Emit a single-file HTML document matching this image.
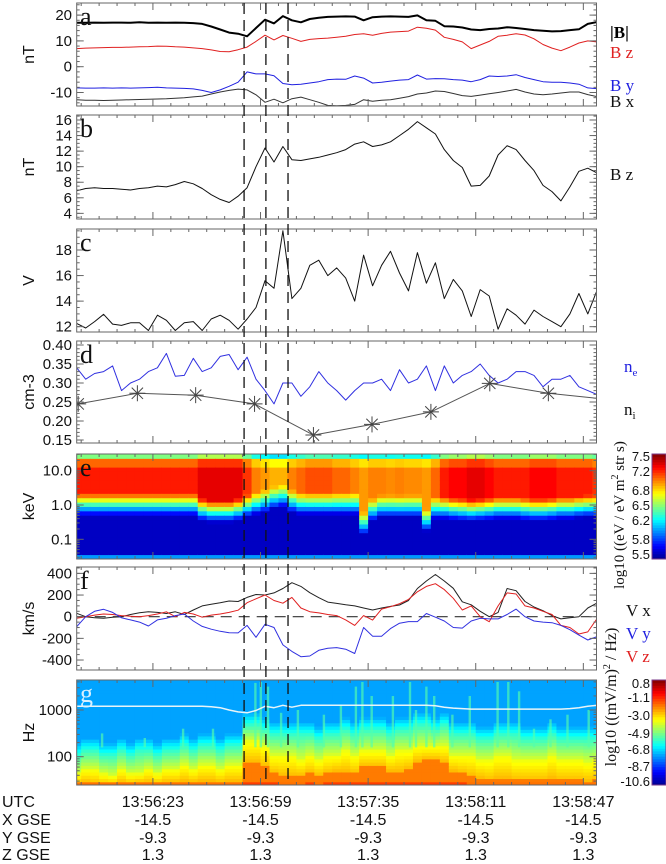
<!DOCTYPE html>
<html><head><meta charset="utf-8"><style>
html,body{margin:0;padding:0;background:#fff;}
svg{display:block;}
text{font-family:"Liberation Sans",sans-serif;}
.serif{font-family:"Liberation Serif",serif;}
</style></head><body>
<svg id="chart" width="666" height="864" viewBox="0 0 666 864" xmlns="http://www.w3.org/2000/svg"></svg>
<script>
// ---- data (time in seconds from 13:55:57.5) ----
const tGrid=[0,3,6,9,12,15,18,21,24,27,30,33,36,39,42,45,48,51,54,57,60,63,66,69,72,75,78,81,84,87,90,93,96,99,102,105,108,111,114,117,120,123,126,129,132,135,138,141,144,147,150,153,156,159,162,165,168,171,174];
const bMag=[17.0,17.0,17.1,17.0,17.1,17.1,17.0,17.2,17.0,17.1,17.0,17.1,17.0,16.9,16.6,15.6,14.4,13.2,12.8,11.8,15.0,18.2,16.8,19.6,18.0,17.2,18.5,19.0,19.3,19.4,19.5,19.4,18.0,19.2,19.4,19.5,19.4,19.3,19.9,18.0,17.8,15.7,15.6,15.2,14.4,14.2,14.6,14.8,15.3,15.0,14.6,14.2,13.9,13.7,13.8,14.2,14.5,16.6,17.3];
const bzA=[7.0,7.2,7.3,7.4,7.5,7.5,7.6,7.7,7.8,8.0,7.9,7.7,7.6,7.3,7.0,6.5,5.9,5.8,6.6,7.6,9.8,12.2,10.4,12.1,11.0,9.8,10.6,10.9,11.1,11.4,11.8,12.5,12.8,12.2,12.9,13.4,13.6,13.8,15.3,14.9,14.2,11.4,10.6,9.6,7.0,8.4,9.8,11.8,12.2,12.8,12.3,10.8,8.6,7.2,6.2,7.6,9.2,10.0,9.6];
const byA=[-8.2,-8.3,-8.3,-8.2,-8.3,-8.2,-8.3,-8.2,-8.1,-8.0,-8.2,-8.3,-8.4,-8.6,-9.2,-10.0,-9.0,-7.6,-6.0,-2.0,-2.8,-2.8,-3.5,-6.5,-7.0,-6.8,-6.3,-5.8,-5.0,-4.8,-4.9,-3.6,-4.4,-6.3,-6.0,-5.6,-5.2,-5.0,-3.2,-4.8,-4.6,-4.7,-5.0,-5.2,-5.8,-5.0,-3.6,-3.8,-3.6,-3.1,-4.2,-5.0,-5.8,-6.0,-6.0,-6.3,-6.8,-8.2,-8.5];
const bxA=[-12.8,-13.0,-13.0,-13.1,-13.0,-12.9,-12.8,-12.7,-12.6,-12.5,-12.4,-12.2,-12.0,-11.7,-11.4,-10.6,-9.8,-9.2,-8.7,-9.0,-10.9,-13.8,-12.6,-14.0,-12.4,-11.8,-12.8,-13.8,-15.0,-15.1,-15.0,-14.6,-12.8,-13.4,-13.0,-12.8,-12.2,-11.6,-10.6,-10.2,-9.4,-9.6,-10.4,-11.2,-11.5,-11.0,-10.5,-10.0,-9.4,-8.8,-9.8,-10.6,-10.9,-10.6,-10.2,-9.8,-9.8,-10.8,-11.6];
const bzB=[6.9,7.2,7.3,7.2,7.2,7.1,7.0,7.2,7.3,7.5,7.4,7.7,8.1,7.8,7.2,6.4,5.8,5.4,6.2,7.3,10.0,12.4,10.6,12.6,10.9,10.8,11.0,11.2,11.5,11.8,12.2,12.9,13.2,12.6,12.8,13.2,14.0,14.8,15.8,15.0,14.2,12.2,10.8,9.9,7.5,7.6,8.8,11.5,12.7,12.2,10.8,9.5,7.6,6.8,5.6,7.4,9.4,9.8,9.2];
const vC=[12.26,11.9,12.4,12.97,12.2,12.1,12.3,12.3,11.7,12.9,12.5,11.7,12.3,12.4,11.7,12.6,12.9,12.5,11.8,12.6,13.5,15.6,15.0,19.5,14.2,15.0,16.8,17.2,16.0,16.6,15.8,14.0,17.6,15.2,16.8,17.9,16.2,14.8,17.8,15.4,17.0,14.2,15.7,14.8,12.8,14.9,14.4,11.8,13.4,12.9,12.2,13.3,12.8,12.4,12.0,13.0,14.6,13.0,14.8];
const nE=[0.34,0.31,0.325,0.33,0.345,0.28,0.30,0.31,0.33,0.34,0.378,0.318,0.32,0.365,0.33,0.34,0.37,0.375,0.335,0.368,0.31,0.28,0.245,0.30,0.30,0.265,0.29,0.33,0.30,0.28,0.255,0.28,0.30,0.30,0.31,0.28,0.335,0.30,0.31,0.345,0.28,0.345,0.30,0.32,0.33,0.35,0.32,0.30,0.31,0.33,0.33,0.32,0.29,0.31,0.31,0.32,0.29,0.28,0.27];
const niT=[0.5,20.3,39.8,59.5,79.2,98.8,118.5,138.2,157.8,177.4];
const nI=[0.245,0.273,0.268,0.245,0.163,0.191,0.224,0.299,0.273,0.257];
const vX=[31,0,-10,-15,-5,0,20,37,45,40,30,45,20,62,100,115,129,145,140,178,205,200,220,260,314,280,222,175,135,123,110,100,80,62,80,95,108,150,260,330,390,330,262,138,110,50,0,40,260,240,140,90,55,10,-20,-10,0,80,125];
const vZ=[-15,0,15,25,20,10,5,0,10,25,45,0,40,25,-5,15,25,40,60,129,165,200,150,125,178,80,46,35,20,10,-30,-80,10,-31,70,92,120,160,230,280,305,250,170,62,100,0,-46,100,220,210,100,80,50,20,-80,-100,-160,-140,-20];
const vY=[-92,0,50,68,40,-10,-30,-50,-86,-30,-15,10,25,-40,-90,-115,-135,-148,-150,-80,-190,-70,-100,-260,-320,-369,-363,-310,-292,-285,-300,-340,-100,-180,-180,-110,-60,-45,-45,30,-5,-40,-100,-105,-40,-15,-20,-20,20,70,0,-40,-50,-55,-80,-120,-170,-215,-185];
// ion spectrogram: red-band lower edge (log10 keV) and peak log flux per column
const eEdge=[0.35,0.35,0.35,0.35,0.35,0.35,0.35,0.35,0.35,0.35,0.35,0.35,0.35,0.35,0.2,0.15,0.15,0.15,0.2,0.3,0.38,0.45,0.55,0.6,0.45,0.38,0.38,0.38,0.38,0.38,0.38,0.38,-0.2,0.2,0.3,0.3,0.3,0.3,0.3,-0.1,0.25,0.25,0.22,0.2,0.18,0.2,0.22,0.25,0.25,0.25,0.22,0.2,0.2,0.22,0.25,0.25,0.28,0.3,0.3];
const ePeak=[7.2,7.2,7.2,7.2,7.2,7.2,7.2,7.2,7.2,7.2,7.2,7.2,7.2,7.2,7.3,7.3,7.3,7.3,7.3,7.15,7.0,6.95,6.9,6.9,7.0,7.05,7.1,7.1,7.1,7.05,7.05,7.0,6.95,7.0,7.0,6.98,7.0,6.98,6.98,6.95,7.05,7.2,7.25,7.25,7.3,7.3,7.25,7.2,7.2,7.2,7.2,7.25,7.25,7.25,7.2,7.2,7.2,7.2,7.15];
// wave spectrogram: tops (log10 Hz) of green, yellow, red regions
const gGreen=[2.05,2.15,2.15,2.05,2.05,2.15,2.05,2.15,2.15,2.05,2.15,2.15,2.25,2.15,2.25,2.25,2.15,2.25,2.25,2.7,2.7,2.6,2.5,2.5,2.5,2.5,2.5,2.4,2.5,2.5,2.6,2.5,2.6,2.6,2.6,2.5,2.6,2.6,2.7,2.7,2.6,2.7,2.5,2.5,2.5,2.4,2.4,2.5,2.5,2.5,2.4,2.4,2.4,2.5,2.4,2.4,2.4,2.4,2.4];
const gYel=[1.65,1.75,1.75,1.65,1.6,1.75,1.65,1.65,1.75,1.65,1.75,1.75,1.85,1.75,1.85,1.85,1.75,1.85,1.85,2.35,2.35,2.25,2.05,2.05,2.05,1.95,2.05,1.95,2.05,2.05,2.15,2.05,2.15,2.15,2.15,2.05,2.15,2.15,2.25,2.25,2.25,2.25,2.05,2.05,2.05,1.95,1.95,2.05,2.05,1.95,1.95,1.95,1.95,2.05,1.95,1.95,1.95,1.9,1.95];
const gRed=[1.42,1.45,1.42,1.4,1.4,1.45,1.42,1.45,1.45,1.42,1.45,1.45,1.48,1.45,1.48,1.48,1.45,1.48,1.48,1.9,1.9,1.8,1.65,1.6,1.6,1.6,1.65,1.6,1.65,1.7,1.7,1.65,1.8,1.8,1.8,1.7,1.7,1.75,1.9,1.95,1.95,1.9,1.7,1.65,1.6,1.55,1.5,1.55,1.55,1.5,1.5,1.5,1.5,1.55,1.5,1.5,1.5,1.48,1.5];
const gLine=[3.08,3.08,3.08,3.08,3.08,3.08,3.08,3.08,3.08,3.08,3.08,3.08,3.08,3.08,3.08,3.07,3.05,3.0,2.96,2.94,2.99,3.08,3.05,3.1,3.06,3.1,3.1,3.1,3.1,3.1,3.1,3.1,3.1,3.1,3.1,3.1,3.1,3.1,3.1,3.1,3.09,3.06,3.04,3.03,3.02,3.02,3.02,3.02,3.02,3.02,3.02,3.02,3.02,3.02,3.02,3.03,3.05,3.08,3.1];
const streakT=[8.5,22.8,35.6,45.6,59.8,61.6,64,68.4,74,82.7,88.4,93.4,95.6,98.7,105.8,111.5,113.5,117,119.6,125.7,131.5,140.8,144.4,148,153,158.5,164.2,171.3];
const streakTop=[2.5,2.4,2.6,2.6,3.58,3.6,3.5,2.94,3.0,2.9,3.1,3.5,3.6,3.3,3.3,3.6,3.0,3.5,3.3,2.9,3.3,3.6,3.6,3.4,2.6,2.8,2.9,3.0];
const eventT=[56.0,63.3,70.7];
const xTickT=[25.5,61.5,97.5,133.5,169.5];
const xTickLab=["13:56:23","13:56:59","13:57:35","13:58:11","13:58:47"];
const xGse=["-14.5","-14.5","-14.5","-14.5","-14.5"];
const yGse=["-9.3","-9.3","-9.3","-9.3","-9.3"];
const zGse=["1.3","1.3","1.3","1.3","1.3"];

// ---- helpers ----
const svg=document.getElementById('chart');
const NS='http://www.w3.org/2000/svg';
const L=76.7,R=596.5;
function X(t){return L+t*2.989;}
function mk(tag,attrs,parent){const e=document.createElementNS(NS,tag);for(const k in attrs)e.setAttribute(k,attrs[k]);(parent||svg).appendChild(e);return e;}
function txt(s,x,y,attrs,parent){const e=mk('text',Object.assign({x:x,y:y},attrs||{}),parent);e.textContent=s;return e;}
function jet(n){n=Math.max(0,Math.min(1,n));const st=[[0,[0,0,140]],[0.125,[0,0,255]],[0.375,[0,255,255]],[0.625,[255,255,0]],[0.875,[255,0,0]],[1,[128,0,0]]];
 for(let i=0;i<st.length-1;i++){if(n<=st[i+1][0]){const f=(n-st[i][0])/(st[i+1][0]-st[i][0]);const a=st[i][1],b=st[i+1][1];return 'rgb('+a.map((v,j)=>Math.round(v+(b[j]-v)*f)).join(',')+')';}}return 'rgb(128,0,0)';}

const panels={
 a:{top:3,bot:106,y:v=>66.7-v*2.58},
 b:{top:115,bot:219,y:v=>120+(16-v)*7.78},
 c:{top:229,bot:332,y:v=>250+(18-v)*12.78},
 d:{top:341,bot:443,y:v=>345+(0.40-v)*380},
 e:{top:454,bot:559,y:lg=>470.7-(lg-1)*34.3},
 f:{top:567,bot:670,y:v=>616.7-v*0.1083},
 g:{top:680,bot:785,y:lg=>710-(lg-3)*46.7}
};
const defs=mk('defs',{});
for(const k in panels){const p=panels[k];const cp=mk('clipPath',{id:'clip-'+k},defs);mk('rect',{x:L,y:p.top,width:R-L,height:p.bot-p.top},cp);}

function line(panel,ts,vs,color,w,name){
 const p=panels[panel];let d='';
 for(let i=0;i<Math.min(ts.length,vs.length);i++){d+=(i?'L':'M')+X(ts[i]).toFixed(1)+','+p.y(vs[i]).toFixed(1);}
 const e=mk('path',{d:d,fill:'none',stroke:color,'stroke-width':w,'stroke-linejoin':'round','clip-path':'url(#clip-'+panel+')'});
 
 
 return e;
}

// ---- spectrogram e ----
const eg=mk('g',{'clip-path':'url(#clip-e)'});


const eBins=24,eLo=-1.57,eHi=1.49;
function eVal(lg,edge,peak){
 if(lg<-1.45) return 6.05;
 if(lg>1.3) return peak-0.45-(lg-1.3)*2;
 if(lg>=edge) return lg>1.12?peak-0.15:peak;
 const d=edge-lg;
 if(d<0.5) return peak-(peak-5.95)*(d/0.5);
 if(d<0.65) return 5.95-(d-0.5)*2.2;
 return 5.62;
}
for(let i=0;i<tGrid.length;i++){
 const x0=X(tGrid[i]-1.5),x1=X(tGrid[i]+1.5);
 for(let j=0;j<eBins;j++){
  const l0=eLo+(eHi-eLo)*j/eBins,l1=eLo+(eHi-eLo)*(j+1)/eBins;
  const v=eVal((l0+l1)/2,eEdge[i],ePeak[i]);
  const y0=panels.e.y(l1),y1=panels.e.y(l0);
  const r=mk('rect',{x:x0.toFixed(2),y:y0.toFixed(2),width:(x1-x0+0.6).toFixed(2),height:(y1-y0+0.6).toFixed(2),fill:jet((v-5.5)/2.0)},eg);
  
  
 }
}

// ---- spectrogram g ----
const gg=mk('g',{'clip-path':'url(#clip-g)'});


const gBins=32,gLo=1.394,gHi=3.642;
function gVal(lf,green,yel,red){
 if(lf<1.46) return red>1.6?-1.3:-1.9;
 if(lf<red) return -2.0;
 if(lf<yel) return -2.7-(lf-red)/(yel-red)*1.0;
 if(lf<green) return -3.9-(lf-yel)/(green-yel)*1.9;
 if(lf<green+0.25) return -5.8-(lf-green)/0.25*1.5;
 return -7.35;
}
for(let i=0;i<tGrid.length;i++){
 const x0=X(tGrid[i]-1.5),x1=X(tGrid[i]+1.5);
 for(let j=0;j<gBins;j++){
  const l0=gLo+(gHi-gLo)*j/gBins,l1=gLo+(gHi-gLo)*(j+1)/gBins;
  const v=gVal((l0+l1)/2,gGreen[i],gYel[i],gRed[i]);
  const y0=panels.g.y(l1),y1=panels.g.y(l0);
  const r=mk('rect',{x:x0.toFixed(2),y:y0.toFixed(2),width:(x1-x0+0.6).toFixed(2),height:(y1-y0+0.6).toFixed(2),fill:jet((v+10.6)/11.4)},gg);
  
  
 }
}
for(let i=0;i<streakT.length;i++){
 const yt=panels.g.y(streakTop[i]);
 const s=mk('rect',{x:(X(streakT[i])-1.2).toFixed(1),y:yt.toFixed(1),width:2.4,height:(panels.g.y(2.2)-yt).toFixed(1),fill:jet((-5.4+10.6)/11.4),opacity:0.65},gg);
 
 
}
line('g',tGrid,gLine,'#e8f4f8',1.5,'frequency-line');

// ---- line panels ----
line('a',tGrid,bMag,'#000',2,'b-magnitude-line');
line('a',tGrid,bzA,'#e02020',1,'bz-line');
line('a',tGrid,byA,'#2020e0',1,'by-line');
line('a',tGrid,bxA,'#333',1,'bx-line');
line('b',tGrid,bzB,'#111',1,'bz-detail-line');
line('c',tGrid,vC,'#111',1,'potential-line');
line('d',tGrid,nE,'#3030e0',1,'electron-density-line');
line('d',niT,nI,'#555',1,'ion-density-line');
for(let i=0;i<niT.length;i++){
 const cx=X(niT[i]),cy=panels.d.y(nI[i]);
 if(cx>R+1) continue;
 const g=mk('g',{stroke:'#444','stroke-width':1,'clip-path':'url(#clip-d)'});
 
 
 for(let k=0;k<4;k++){const a=k*Math.PI/4;const dx=8*Math.cos(a),dy=8*Math.sin(a);mk('line',{x1:cx-dx,y1:cy-dy,x2:cx+dx,y2:cy+dy},g);}
}
const zl=mk('line',{x1:L,x2:R,y1:panels.f.y(0),y2:panels.f.y(0),stroke:'#333','stroke-width':1.2,'stroke-dasharray':'11,7'});


line('f',tGrid,vX,'#222',1,'vx-line');
line('f',tGrid,vZ,'#e02020',1,'vz-line');
line('f',tGrid,vY,'#3030e0',1,'vy-line');

// ---- frames & ticks ----
const yTicks={
 a:{major:[20,10,0,-10],lab:['20','10','0','-10'],minor:2,range:[-15.2,24.7]},
 b:{major:[4,6,8,10,12,14,16],lab:['4','6','8','10','12','14','16'],minor:0.5,range:[3.4,16.6]},
 c:{major:[12,14,16,18],lab:['12','14','16','18'],minor:0.5,range:[11.4,19.7]},
 d:{major:[0.15,0.20,0.25,0.30,0.35,0.40],lab:['0.15','0.20','0.25','0.30','0.35','0.40'],minor:0.01,range:[0.135,0.408]},
 e:{major:[-1,0,1],lab:['0.1','1.0','10.0'],minor:null,range:[-1.57,1.49]},
 f:{major:[-400,-200,0,200,400],lab:['-400','-200','0','200','400'],minor:50,range:[-490,450]},
 g:{major:[2,3],lab:['100','1000'],minor:null,range:[1.394,3.642]}
};
const titles={a:'nT',b:'nT',c:'V',d:'cm-3',e:'keV',f:'km/s',g:'Hz'};
for(const k in panels){
 const p=panels[k],yt=yTicks[k];
 const fr=mk('rect',{x:L,y:p.top,width:R-L,height:p.bot-p.top,fill:'none',stroke:'#666','stroke-width':1});
 
 
 const tk=mk('g',{stroke:'#666','stroke-width':1});
 
 
 if(yt.minor){const s=Math.ceil(yt.range[0]/yt.minor-1e-9);for(let v=s*yt.minor;v<=yt.range[1];v+=yt.minor){const y=p.y(v);if(y<p.top||y>p.bot)continue;mk('line',{x1:L,x2:L+3,y1:y,y2:y},tk);mk('line',{x1:R-3,x2:R,y1:y,y2:y},tk);}}
 else{for(let dec=-2;dec<4;dec++){for(let m=2;m<10;m++){const lg=dec+Math.log10(m);if(lg<yt.range[0]||lg>yt.range[1])continue;const y=p.y(lg);mk('line',{x1:L,x2:L+3,y1:y,y2:y},tk);mk('line',{x1:R-3,x2:R,y1:y,y2:y},tk);}}}
 yt.major.forEach((v,i)=>{const y=p.y(v);mk('line',{x1:L,x2:L+7,y1:y,y2:y},tk);mk('line',{x1:R-7,x2:R,y1:y,y2:y},tk);
  const t=txt(yt.lab[i],72,y+5,{'text-anchor':'end','font-size':15,fill:'#111'});
  
  });
 for(let tt=-4.5;tt<175;tt+=6){const x=X(tt);if(x<L||x>R)continue;const maj=xTickT.some(m=>Math.abs(m-tt)<0.01);const ln=maj?7:3;mk('line',{x1:x,x2:x,y1:p.bot,y2:p.bot-ln},tk);mk('line',{x1:x,x2:x,y1:p.top,y2:p.top+ln},tk);}
 const ti=txt(titles[k],34,(p.top+p.bot)/2,{'text-anchor':'middle','font-size':16,fill:'#111',transform:'rotate(-90 34 '+((p.top+p.bot)/2)+')'});
 
 
 const lt=txt(k,80,p.top+22,{'class':'serif','font-size':26,fill:k==='g'?'#d8f0ff':'#111'});
 
 
}

eventT.forEach(t=>{const l=mk('line',{x1:X(t),x2:X(t),y1:3,y2:785,stroke:'#111','stroke-width':1.3,'stroke-dasharray':'11,6'});
 
 });

function lab(s,x,y,col,name,size){const t=txt(s,x,y,{'class':'serif','font-size':size||17,fill:col});return t;}
lab('|B|',610,38,'#000','legend-b-magnitude').setAttribute('font-weight','bold');
lab('B z',610,58,'#e02020','legend-bz');
lab('B y',610,91,'#2020e0','legend-by');
lab('B x',610,107,'#111','legend-bx');
lab('B z',610,180,'#111','legend-bz-detail');
const ne=lab('n',624,372,'#2020e0','legend-ne');const s1=mk('tspan',{'font-size':11,dy:4},ne);s1.textContent='e';
const ni=lab('n',624,415,'#111','legend-ni');const s2=mk('tspan',{'font-size':11,dy:4},ni);s2.textContent='i';
lab('V x',626,616,'#111','legend-vx');
lab('V y',626,639,'#2020e0','legend-vy');
lab('V z',626,662,'#e02020','legend-vz');

function cbar(top,bot,name){const g=mk('g',{});
 const n=40;for(let i=0;i<n;i++){const y=bot-(i+1)*(bot-top)/n;mk('rect',{x:652,y:y.toFixed(2),width:14,height:((bot-top)/n+0.5).toFixed(2),fill:jet((i+0.5)/n)},g);}
 mk('rect',{x:652,y:top,width:14,height:bot-top,fill:'none',stroke:'#7a3a8a','stroke-width':1},g);}
cbar(454,559,'ion-flux-colorbar');
cbar(680,785,'wave-power-colorbar');
const eLabs=['7.5','7.2','6.8','6.5','6.2','5.8','5.5'],eLabY=[461,476,495,510,525,544,559];
eLabs.forEach((s,i)=>{const t=txt(s,650,eLabY[i],{'text-anchor':'end','font-size':13,fill:'#111'});});
const gLabs=['0.8','-1.1','-3.0','-4.9','-6.8','-8.7','-10.6'],gLabY=[688,702,720,738,754,771,786];
gLabs.forEach((s,i)=>{const t=txt(s,650,gLabY[i],{'text-anchor':'end','font-size':13,fill:'#111'});});
const ct1=mk('text',{x:0,y:0,'class':'serif','font-size':15,fill:'#111','text-anchor':'middle',transform:'translate(624 515) rotate(-90)'});

ct1.innerHTML='log10 ((eV / eV m<tspan font-size="10" dy="-6">2</tspan><tspan dy="6"> str s)</tspan>';
const ct2=mk('text',{x:0,y:0,'class':'serif','font-size':16,fill:'#111','text-anchor':'middle',transform:'translate(616 697) rotate(-90)'});

ct2.innerHTML='log10 ((mV/m)<tspan font-size="10" dy="-6">2</tspan><tspan dy="6"> / Hz)</tspan>';

const rows=[['UTC',xTickLab,807],['X GSE',xGse,825],['Y GSE',yGse,843],['Z GSE',zGse,860]];
rows.forEach(r=>{const h=txt(r[0],2,r[2],{'font-size':16,fill:'#111'});
 r[1].forEach((s,i)=>{const t=txt(s,X(xTickT[i]),r[2],{'font-size':16,fill:'#111','text-anchor':'middle'});});});
</script>
</body></html>
